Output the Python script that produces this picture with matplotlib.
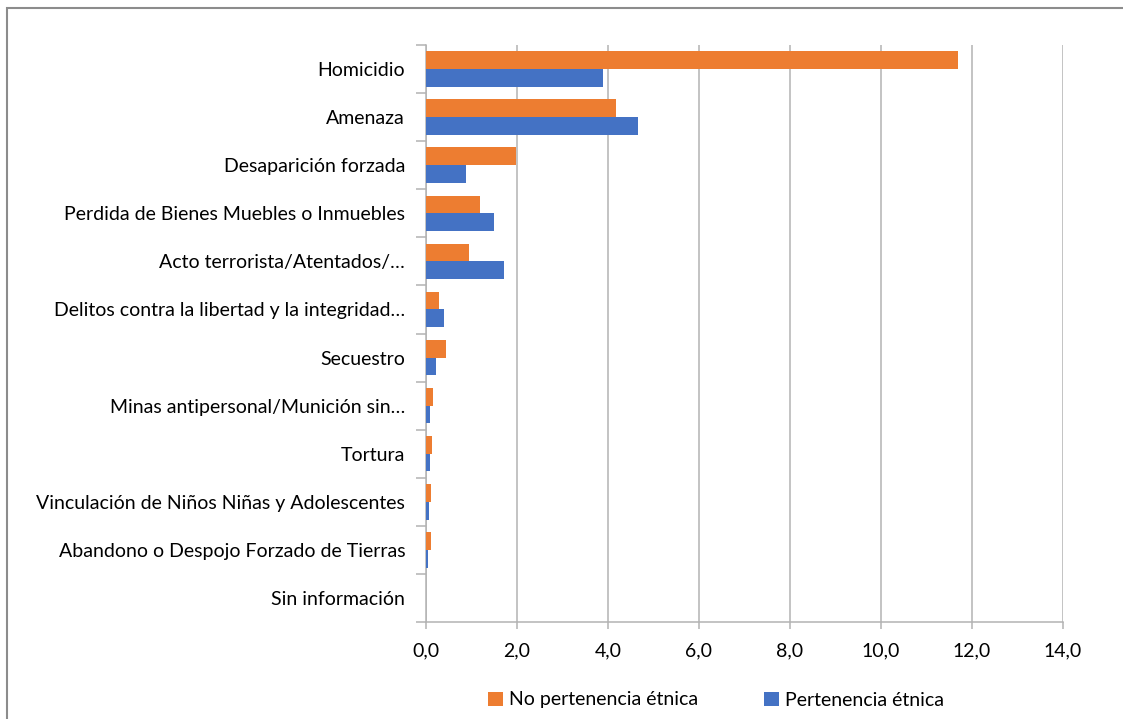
import numpy as np
import matplotlib.pyplot as plt
from matplotlib.patches import Rectangle
from matplotlib.ticker import FixedLocator, FuncFormatter

categories = [
    "Homicidio",
    "Amenaza",
    "Desaparición forzada",
    "Perdida de Bienes Muebles o Inmuebles",
    "Acto terrorista/Atentados/…",
    "Delitos contra la libertad y la integridad…",
    "Secuestro",
    "Minas antipersonal/Munición sin…",
    "Tortura",
    "Vinculación de Niños Niñas y Adolescentes",
    "Abandono o Despojo Forzado de Tierras",
    "Sin información",
]
no_pertenencia = [11.69, 4.18, 1.98, 1.19, 0.95, 0.29, 0.45, 0.16, 0.13, 0.11, 0.11, 0.01]
pertenencia = [3.89, 4.65, 0.88, 1.50, 1.72, 0.40, 0.22, 0.09, 0.09, 0.07, 0.04, 0.01]

x_ticks = np.arange(0, 15, 2)

ORANGE = "#ED7D31"
BLUE = "#4472C4"
GRID = "#B3B3B3"

plt.rcParams["font.family"] = ["Lato", "DejaVu Sans"]

fig = plt.figure(figsize=(11.23, 7.19), dpi=100)
ax = fig.add_axes([426 / 1123, 1 - 622 / 719, (1063 - 426) / 1123, (622 - 45) / 719])

y = np.arange(len(categories))
h = 0.37
ax.barh(y - h / 2, no_pertenencia, height=h, color=ORANGE, label="No pertenencia étnica", zorder=3)
ax.barh(y + h / 2, pertenencia, height=h, color=BLUE, label="Pertenencia étnica", zorder=3)

ax.set_xlim(0, 14)
ax.set_ylim(len(categories) - 0.5, -0.5)

# x axis
ax.xaxis.set_major_locator(FixedLocator(x_ticks))
ax.xaxis.set_major_formatter(FuncFormatter(lambda v, p: f"{v:.1f}".replace(".", ",")))
ax.tick_params(axis="x", length=5, width=1.1, color=GRID, pad=10, labelsize=14)
ax.grid(axis="x", color=GRID, linewidth=1.1, zorder=0)

# y axis: ticks at category boundaries, labels at centers
ax.yaxis.set_major_locator(FixedLocator(np.arange(-0.5, len(categories), 1)))
ax.yaxis.set_major_formatter(FuncFormatter(lambda v, p: ""))
ax.yaxis.set_minor_locator(FixedLocator(y))
ax.set_yticklabels(categories, minor=True)
ax.tick_params(axis="y", which="major", length=7, width=1.1, color=GRID)
ax.tick_params(axis="y", which="minor", length=0, pad=15, labelsize=14)

for side in ["top", "right"]:
    ax.spines[side].set_visible(False)
for side in ["left", "bottom"]:
    ax.spines[side].set_color(GRID)
    ax.spines[side].set_linewidth(1.1)

leg = fig.legend(loc="center", bbox_to_anchor=(716 / 1123, 1 - 700 / 719), ncol=2,
                 frameon=False, fontsize=14, handlelength=0.75, handleheight=0.75,
                 handletextpad=0.3, columnspacing=3.4)

# outer chart border
fig.patches.append(Rectangle((7 / 1123, -0.1), 2, 1.1 - 8 / 719, transform=fig.transFigure,
                             fill=False, edgecolor="#8C8C8C", linewidth=1.5))

fig.savefig("out.png", dpi=100)
